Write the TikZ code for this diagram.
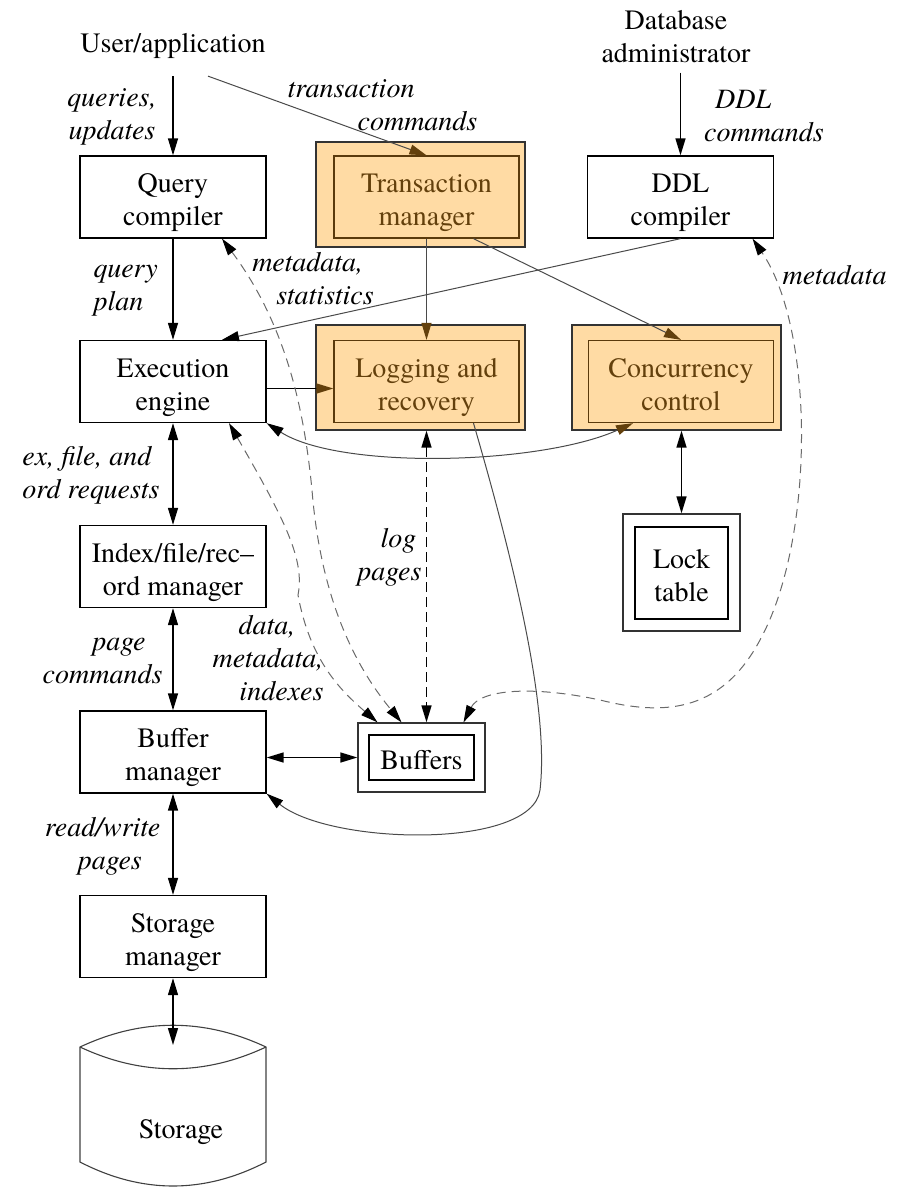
\documentclass[tikz,border=0pt]{standalone}
\usepackage{fontspec}
\setmainfont{texgyretermes}[Extension=.otf,UprightFont=*-regular,ItalicFont=*-italic,
  BoldFont=*-bold,BoldItalicFont=*-bolditalic]
\usepackage{tikz}
\usetikzlibrary{arrows.meta}
\usetikzlibrary{positioning}
\definecolor{txfill}{HTML}{FFDBA4}
\definecolor{txtext}{HTML}{63400C}
\definecolor{txline}{HTML}{5A3A0C}
\definecolor{wire}{HTML}{4A4A4A}
\definecolor{dashwire}{HTML}{6A6A6A}
\tikzset{
  blk/.tip={Triangle[length=17pt,width=10pt,color=black]},
  brn/.tip={Triangle[length=17pt,width=10pt,color=txtext]},
  >=blk
}
\newcommand{\bodyfont}{\fontsize{28}{33}\selectfont}
% box text sits a little low, as in the original
\newcommand{\boxlines}[1]{\raisebox{-12pt}[0pt][0pt]{\begin{tabular}{@{}c@{}}#1\end{tabular}}}
\tikzstyle{comp}=[draw,rectangle,line width=1.3pt,minimum width=186pt,
  minimum height=82pt,align=center,inner sep=2pt,font=\bodyfont]
\tikzstyle{txbox}=[comp,fill=txfill,draw=txline,text=txtext,minimum width=185pt]
\tikzstyle{txouter}=[draw=black!80,fill=txfill,line width=1.3pt,
  minimum width=209pt,minimum height=105pt]
\tikzstyle{holder}=[draw=black!80,line width=1.3pt]
\tikzstyle{actor}=[align=center,font=\bodyfont]
\tikzstyle{lbl}=[align=center,font=\itshape\bodyfont]
\tikzstyle{main}=[line width=1.4pt]
\tikzstyle{wireline}=[draw=wire,line width=1pt]
\tikzstyle{meta}=[draw=dashwire,line width=1pt,dash pattern=on 9pt off 6pt]
\tikzstyle{logdash}=[line width=1.4pt,dash pattern=on 10pt off 5pt]

\begin{document}
\begin{tikzpicture}[x=1pt,y=-1pt]
  \useasboundingbox (0,0) rectangle (911,1188);

  \node[actor] (user) at (173,46) {User/application};
  \node[actor] (dba) at (676,37) {Database\\administrator};

  \node[comp] (qc) at (173,197) {\boxlines{Query\\compiler}};
  \node[txouter] (tmO) at (420.5,194.5) {};
  \node[txbox] (tm) at (426.5,197) {\boxlines{Transaction\\manager}};
  \node[comp] (ddl) at (680.5,197) {\boxlines{DDL\\compiler}};

  \node[comp] (ee) at (173,381.5) {\boxlines{Execution\\engine}};
  \node[txouter] (lrO) at (420.5,377.5) {};
  \node[txbox] (lr) at (426.5,381.5) {\boxlines{Logging and\\recovery}};
  \node[txouter] (ccO) at (676.5,377.5) {};
  \node[txbox] (cc) at (681,381.5) {\boxlines{Concurrency\\control}};

  \node[comp] (irm) at (173,566.5) {\boxlines{Index/file/rec--\\ord manager}};
  \node[holder,minimum width=117pt,minimum height=117pt] (ltO) at (681.5,572.5) {};
  \node[comp,minimum width=93pt,minimum height=92pt] (lt) at (681.5,573) {\boxlines{Lock\\table}};

  \node[comp] (bm) at (173,752) {\boxlines{Buffer\\manager}};
  \node[holder,minimum width=127pt,minimum height=69pt] (bufO) at (421.5,757.5) {};
  \node[comp,minimum width=105pt,minimum height=45pt] (buf) at (421.5,757.5) {\boxlines{Buffers}};

  \node[comp] (sm) at (173,936.5) {\boxlines{Storage\\manager}};
  % the disk
  \draw[line width=1.1pt,draw=black!75] (80,1047) .. controls (142,1018) and (204,1018) .. (266,1047)
    -- (266,1162) .. controls (204,1194) and (142,1194) .. (80,1162) -- cycle;
  \draw[line width=1.1pt,draw=black!75] (80,1047) .. controls (142,1076) and (204,1076) .. (266,1047);
  \node[actor] (st) at (181,1132) {Storage};
  \coordinate (stTop) at (173,1045);

  % edge labels
  \node[lbl] (lqu) at (112,117) {queries,\\updates};
  \node[lbl,align=left] (ltc) at (382.5,105) {transaction\\\hspace*{70pt}commands};
  \node[lbl,align=left] (lddl) at (764,116) {\hspace*{11pt}DDL\\commands};
  \node[lbl,align=left,anchor=west] (lqp) at (90,290.5) {query\\plan};
  \node[lbl,align=left] (lms) at (313,279) {metadata,\\\hspace*{24pt}statistics};
  \node[lbl,anchor=east] (lmd) at (890,275) {metadata};
  \node[lbl,align=right,anchor=east] (lreq) at (163,475) {ex, file, and\hspace*{8pt}\\ord requests};
  \node[lbl,align=right,anchor=east] (llog) at (425,557) {log\hspace*{5pt}\\pages};
  \node[lbl,align=right,anchor=east] (lpc) at (166,661.5) {page\hspace*{17pt}\\commands};
  \node[lbl,align=right,anchor=east] (ldmi) at (327,658) {data,\hspace*{28pt}\\metadata,\hspace*{9pt}\\indexes};
  \node[lbl,align=left] (lrw) at (102.5,846) {read/write\\\hspace*{33pt}pages};

  % control flow
  \draw[main,->,shorten <=14pt] (user) -- (qc);
  \draw[wireline,-brn] ([xshift=35pt,yshift=-14pt]user.south) -- (tm.north);
  \draw[main,->,shorten <=6pt] (dba.south -| ddl.north) -- (ddl.north);
  \draw[main,->] (qc) -- (ee);
  \draw[wireline,->] (ddl.south) -- ([xshift=49pt]ee.north);
  \draw[wireline,-brn] (tm) -- (lr);
  \draw[wireline,-brn] ([xshift=47pt]tm.south) -- (cc.north);
  \draw[main,-brn] ([yshift=-7pt]ee.east) -- ([yshift=-7pt]lr.west);
  \draw[wireline,blk-brn] (ee.south east) .. controls (340,470) and (540,465) .. ([xshift=-48pt]cc.south);
  \draw[main,<->] (ccO.south -| lt.north) -- (ltO.north);
  \draw[main,<->] (ee) -- (irm);
  \draw[main,<->] (irm) -- (bm);
  \draw[main,<->] (bm) -- (sm);
  \draw[main,<->] (sm) -- (stTop);
  \draw[main,<->] (bufO.west -| bm.east) -- (bufO.west);
  \draw[wireline,->] ([xshift=47pt]lr.south) .. controls (525,600) and (548,720) .. (540,790)
    .. controls (532,850) and (330,845) .. (bm.south east);

  % data flow through the buffers
  \draw[meta,<->] ([xshift=56pt]ee.south) .. controls (285,520) and (305,560) .. (298,595)
    .. controls (310,660) and (340,690) .. ([xshift=-44pt]bufO.north);
  \draw[meta,<->] ([xshift=49pt]qc.south) .. controls (290,330) and (305,420) .. (312,490)
    .. controls (320,590) and (350,660) .. ([xshift=-20pt]bufO.north);
  \draw[logdash,<->] (lrO.south -| lr.south) -- (bufO.north -| lr.south);
  \draw[meta,<->] ([xshift=42pt]bufO.north) .. controls (480,690) and (530,685) .. (600,700)
    .. controls (660,715) and (720,715) .. (760,640)
    .. controls (815,540) and (815,330) .. ([xshift=72pt]ddl.south); % to the DDL compiler
\end{tikzpicture}
\end{document}
